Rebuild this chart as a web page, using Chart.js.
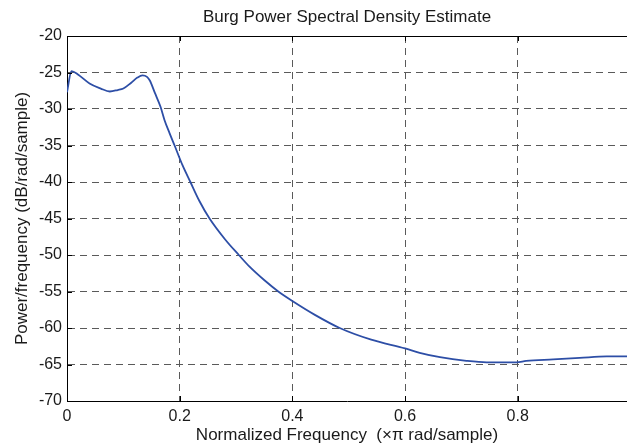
<!DOCTYPE html>
<html>
<head>
<meta charset="utf-8">
<title>Burg Power Spectral Density Estimate</title>
<script src="https://cdn.jsdelivr.net/npm/chart.js@4.4.1/dist/chart.umd.min.js"></script>
<style>
    html, body { margin: 0; padding: 0; background: #fff; }
    #wrap { width: 627px; height: 446px; }
</style>
</head>
<body>
<div id="wrap"><canvas id="psd" width="627" height="446"></canvas></div>
<script>
// values
const freq = [0, 0.008, 0.02, 0.04, 0.06, 0.076, 0.09, 0.1, 0.114, 0.125, 0.134, 0.142,
    0.147, 0.156, 0.166, 0.173, 0.182, 0.191, 0.205, 0.219, 0.235, 0.253, 0.28, 0.305,
    0.324, 0.351, 0.375, 0.4, 0.44, 0.484, 0.54, 0.6, 0.626, 0.662, 0.709, 0.745, 0.798,
    0.815, 0.863, 0.91, 0.958, 0.994];
const psdDb = [-27.7, -24.8, -25.3, -26.5, -27.2, -27.6, -27.4, -27.2, -26.4, -25.7, -25.4, -25.6,
    -26.1, -27.8, -29.7, -31.5, -33.3, -35.0, -37.7, -40.0, -42.6, -45.0, -47.8, -50.0,
    -51.6, -53.5, -55.0, -56.3, -58.2, -60.0, -61.6, -62.8, -63.4, -64.0, -64.5, -64.7, -64.7,
    -64.5, -64.3, -64.1, -63.9, -63.9];
const xTicks = [0, 0.2, 0.4, 0.6, 0.8];
const yTicks = [-70, -65, -60, -55, -50, -45, -40, -35, -30, -25, -20];

const FONT = "'Liberation Sans', Arial, Helvetica, sans-serif";
const gridColor = '#5a5a5a';

// top border + inward tick marks, matlab style
const axesBox = {
    id: 'axesBox',
    afterDraw(chart) {
        const ctx = chart.ctx;
        const area = chart.chartArea;
        const xs = chart.scales.x;
        const ys = chart.scales.y;
        ctx.save();
        ctx.strokeStyle = '#000';
        ctx.lineWidth = 1;
        ctx.beginPath();
        ctx.moveTo(area.left, area.top + 0.5);
        ctx.lineTo(area.right, area.top + 0.5);
        xTicks.forEach(v => {
            const px = Math.round(xs.getPixelForValue(v)) + 0.5;
            ctx.moveTo(px, area.bottom);
            ctx.lineTo(px, area.bottom - 5);
            ctx.moveTo(px, area.top);
            ctx.lineTo(px, area.top + 5);
        });
        yTicks.forEach(v => {
            const py = Math.round(ys.getPixelForValue(v)) + 0.5;
            ctx.moveTo(area.left, py);
            ctx.lineTo(area.left + 5, py);
        });
        ctx.stroke();
        ctx.restore();
    }
};

document.addEventListener('DOMContentLoaded', function() {
    const ctx = document.getElementById('psd').getContext('2d');

    new Chart(ctx, {
        type: 'line',
        data: {
            datasets: [{
                label: 'PSD',
                data: freq.map((f, i) => ({ x: f, y: psdDb[i] })),
                borderColor: '#2d4ea6',
                borderWidth: 1.8,
                pointRadius: 0,
                fill: false,
                cubicInterpolationMode: 'monotone'
            }]
        },
        options: {
            responsive: false,
            animation: false,
            layout: { padding: 0 },
            plugins: {
                legend: { display: false },
                tooltip: { enabled: false },
                title: {
                    display: true,
                    text: 'Burg Power Spectral Density Estimate',
                    fullSize: false,
                    color: '#1a1a1a',
                    font: { family: FONT, size: 17, weight: 'normal', lineHeight: 1.2 },
                    padding: { top: 7, bottom: 8.6 }
                }
            },
            scales: {
                x: {
                    type: 'linear',
                    min: 0,
                    max: 0.994,
                    afterBuildTicks: scale => { scale.ticks = xTicks.map(v => ({ value: v })); },
                    afterFit: scale => { scale.height = 45; },
                    grid: {
                        color: c => (c.tick && c.tick.value === 0) ? 'rgba(0,0,0,0)' : gridColor,
                        lineWidth: 1,
                        drawTicks: false
                    },
                    border: { display: true, color: '#000', width: 1, dash: [7, 5] },
                    ticks: {
                        color: '#1a1a1a',
                        padding: 6,
                        maxRotation: 0,
                        font: { family: FONT, size: 16 },
                        callback: v => String(v)
                    },
                    title: {
                        display: true,
                        text: 'Normalized Frequency  (\u00d7\u03c0 rad/sample)',
                        color: '#1a1a1a',
                        font: { family: FONT, size: 17, lineHeight: 1.2 },
                        padding: { top: 0, bottom: 0 }
                    }
                },
                y: {
                    min: -70,
                    max: -20,
                    afterBuildTicks: scale => { scale.ticks = yTicks.map(v => ({ value: v })); },
                    afterFit: scale => { scale.width = 67; },
                    grid: {
                        color: c => (c.tick && (c.tick.value === -70 || c.tick.value === -20)) ? 'rgba(0,0,0,0)' : gridColor,
                        lineWidth: 1,
                        drawTicks: false
                    },
                    border: { display: true, color: '#000', width: 1, dash: [7, 5] },
                    ticks: {
                        color: '#1a1a1a',
                        padding: 5,
                        font: { family: FONT, size: 16 }
                    },
                    title: {
                        display: true,
                        text: 'Power/frequency (dB/rad/sample)',
                        color: '#1a1a1a',
                        font: { family: FONT, size: 17, lineHeight: 1.2 },
                        padding: { top: 12, bottom: 0 }
                    }
                }
            }
        },
        plugins: [axesBox]
    });
});
</script>
</body>
</html>
